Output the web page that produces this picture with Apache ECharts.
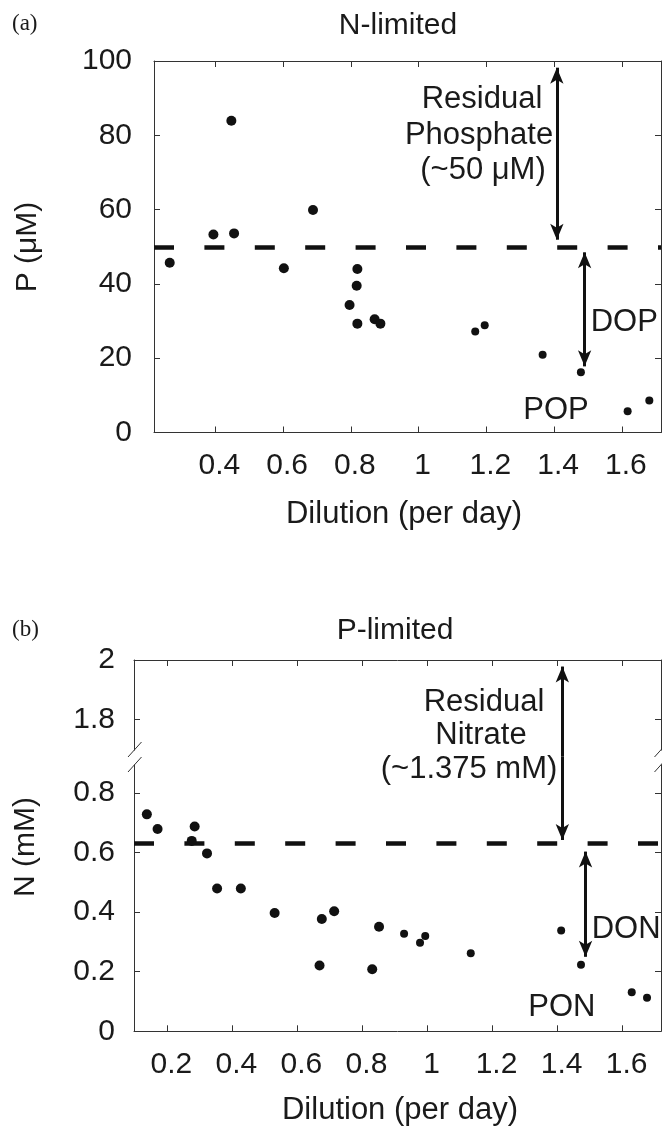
<!DOCTYPE html>
<html>
<head>
<meta charset="utf-8">
<script src="https://cdn.jsdelivr.net/npm/echarts@6/dist/echarts.min.js"></script>
<style>
html,body{margin:0;padding:0;background:#fff;}
#c{width:662px;height:1129px;}
</style>
</head>
<body>
<div id="c"></div>
<script>
// ---------- data: panel (a) N-limited ----------
const dilutionA = [0.265, 0.394, 0.447, 0.455, 0.602, 0.688, 0.819, 0.817, 0.796, 0.819, 0.870, 0.887, 1.167, 1.195, 1.366, 1.479, 1.617, 1.681];
const phosphateA = [45.7, 53.3, 83.9, 53.6, 44.2, 59.9, 44.0, 39.5, 34.3, 29.3, 30.5, 29.3, 27.2, 28.9, 20.9, 16.2, 5.7, 8.6];
const residualP = 50;
const xTicksA = [0.4, 0.6, 0.8, 1.0, 1.2, 1.4, 1.6];
const yTicksA = [0, 20, 40, 60, 80, 100];
const arrowResidualA = [1.408, 98.2, 51.9];   // x, top tip, bottom tip
const arrowDOP = [1.490, 48.5, 17.8];

// ---------- data: panel (b) P-limited ----------
const dilutionB = [0.137, 0.170, 0.275, 0.284, 0.322, 0.353, 0.426, 0.530, 0.668, 0.675, 0.713, 0.830, 0.851, 0.928, 0.977, 0.993, 1.133, 1.411, 1.472, 1.628, 1.675];
const nitrateB = [0.728, 0.679, 0.639, 0.687, 0.597, 0.479, 0.479, 0.397, 0.221, 0.377, 0.403, 0.208, 0.351, 0.327, 0.297, 0.320, 0.262, 0.338, 0.223, 0.131, 0.113];
const residualN = 0.625;
const xTicksB = [0.2, 0.4, 0.6, 0.8, 1.0, 1.2, 1.4, 1.6];
const yTicksBLow = [0, 0.2, 0.4, 0.6, 0.8];
const yTicksBHigh = [1.8, 2];
const arrowResidualB = [1.4146, 1.978, 0.642];
const arrowDON = [1.486, 0.603, 0.250];

// ---------- layout ----------
const FONT = 'Liberation Sans, Arial, Helvetica, sans-serif';
const SERIF = 'Liberation Serif, DejaVu Serif, serif';
const TXT = '#1a1a1a';
const INK = '#111';
const xMinA = 0.2186, xMaxA = 1.7155;
const xMinB = 0.0975, xMaxB = 1.718;
const yMinUp = 1.6755, yMaxLow = 0.9215;

const axLine = {show: true, onZero: false, lineStyle: {color: '#333', width: 1}};
function ticks(vals) {
  return {show: true, inside: true, length: 6, customValues: vals, lineStyle: {color: '#333', width: 1}};
}
function xLabels(vals) {
  return {show: true, customValues: vals, fontSize: 30, fontFamily: FONT, color: TXT, margin: 18, padding: [0, 0, 0, 8]};
}
function yLabels(vals, margin) {
  return {show: true, customValues: vals, fontSize: 30, fontFamily: FONT, color: TXT, margin: margin};
}
const noLabel = {show: false};
const noSplit = {show: false};

function dotSize(v) { return v[0] < 0.9 ? 10 : 8; }

const chart = echarts.init(document.getElementById('c'), null, {renderer: 'canvas'});

const arrowLine = {color: INK, width: 3, type: 'solid', opacity: 1};
const dashLine = {color: INK, width: 4.5, type: [20, 30.4], opacity: 1};

const option = {
  animation: false,
  backgroundColor: '#fff',
  grid: [
    {left: 154, top: 61, width: 507, height: 371.5, show: false},
    {left: 134, top: 660, width: 527, height: 96.7, show: false},
    {left: 134, top: 756.7, width: 527, height: 274.6, show: false}
  ],
  xAxis: [
    {gridIndex: 0, type: 'value', position: 'bottom', min: xMinA, max: xMaxA, axisLine: axLine, axisTick: ticks(xTicksA), axisLabel: xLabels(xTicksA), splitLine: noSplit},
    {gridIndex: 0, type: 'value', position: 'top', min: xMinA, max: xMaxA, axisLine: axLine, axisTick: ticks(xTicksA), axisLabel: noLabel, splitLine: noSplit},
    {gridIndex: 1, type: 'value', position: 'top', min: xMinB, max: xMaxB, axisLine: axLine, axisTick: ticks(xTicksB), axisLabel: noLabel, splitLine: noSplit},
    {gridIndex: 2, type: 'value', position: 'bottom', min: xMinB, max: xMaxB, axisLine: axLine, axisTick: ticks(xTicksB), axisLabel: xLabels(xTicksB), splitLine: noSplit}
  ],
  yAxis: [
    {gridIndex: 0, type: 'value', position: 'left', min: 0, max: 100, axisLine: axLine, axisTick: ticks(yTicksA), axisLabel: yLabels(yTicksA, 22), splitLine: noSplit},
    {gridIndex: 0, type: 'value', position: 'right', min: 0, max: 100, axisLine: axLine, axisTick: ticks(yTicksA), axisLabel: noLabel, splitLine: noSplit},
    {gridIndex: 1, type: 'value', position: 'left', min: yMinUp, max: 2, axisLine: axLine, axisTick: ticks(yTicksBHigh), axisLabel: yLabels(yTicksBHigh, 19), splitLine: noSplit},
    {gridIndex: 1, type: 'value', position: 'right', min: yMinUp, max: 2, axisLine: axLine, axisTick: ticks(yTicksBHigh), axisLabel: noLabel, splitLine: noSplit},
    {gridIndex: 2, type: 'value', position: 'left', min: 0, max: yMaxLow, axisLine: axLine, axisTick: ticks(yTicksBLow), axisLabel: yLabels(yTicksBLow, 19), splitLine: noSplit},
    {gridIndex: 2, type: 'value', position: 'right', min: 0, max: yMaxLow, axisLine: axLine, axisTick: ticks(yTicksBLow), axisLabel: noLabel, splitLine: noSplit}
  ],
  series: [
    {
      type: 'scatter', xAxisIndex: 0, yAxisIndex: 0, z: 5,
      data: dilutionA.map((d, i) => [d, phosphateA[i]]),
      symbolSize: dotSize,
      itemStyle: {color: INK, opacity: 1},
      emphasis: {disabled: true},
      markLine: {
        silent: true, animation: false, symbol: ['arrow', 'arrow'], symbolSize: [10, 16],
        label: {show: false}, emphasis: {disabled: true},
        lineStyle: arrowLine,
        data: [
          [{coord: [arrowResidualA[0], arrowResidualA[1]]}, {coord: [arrowResidualA[0], arrowResidualA[2]]}],
          [{coord: [arrowDOP[0], arrowDOP[1]]}, {coord: [arrowDOP[0], arrowDOP[2]]}]
        ]
      }
    },
    {
      type: 'line', xAxisIndex: 0, yAxisIndex: 0, data: [], z: 4,
      markLine: {
        silent: true, animation: false, symbol: ['none', 'none'], label: {show: false}, emphasis: {disabled: true},
        lineStyle: dashLine,
        data: [{yAxis: residualP}]
      }
    },
    {
      type: 'line', xAxisIndex: 2, yAxisIndex: 2, data: [], z: 4,
      markLine: {
        silent: true, animation: false, symbolSize: [10, 16], label: {show: false}, emphasis: {disabled: true},
        lineStyle: arrowLine,
        data: [
          [{coord: [arrowResidualB[0], arrowResidualB[1]], symbol: 'arrow'}, {coord: [arrowResidualB[0], yMinUp], symbol: 'none'}]
        ]
      }
    },
    {
      type: 'scatter', xAxisIndex: 3, yAxisIndex: 4, z: 5,
      data: dilutionB.map((d, i) => [d, nitrateB[i]]),
      symbolSize: dotSize,
      itemStyle: {color: INK, opacity: 1},
      emphasis: {disabled: true},
      markLine: {
        silent: true, animation: false, symbolSize: [10, 16], label: {show: false}, emphasis: {disabled: true},
        lineStyle: arrowLine,
        data: [
          [{coord: [arrowResidualB[0], yMaxLow], symbol: 'none'}, {coord: [arrowResidualB[0], arrowResidualB[2]], symbol: 'arrow'}],
          [{coord: [arrowDON[0], arrowDON[1]], symbol: 'arrow'}, {coord: [arrowDON[0], arrowDON[2]], symbol: 'arrow'}]
        ]
      }
    },
    {
      type: 'line', xAxisIndex: 3, yAxisIndex: 4, data: [], z: 4,
      markLine: {
        silent: true, animation: false, symbol: ['none', 'none'], label: {show: false}, emphasis: {disabled: true},
        lineStyle: dashLine,
        data: [{yAxis: residualN}]
      }
    }
  ]
};

function txt(text, x, y, opts) {
  return Object.assign({
    type: 'text', x: x, y: y, z: 20, silent: true,
    style: Object.assign({text: text, fontSize: 31, fontFamily: FONT, fill: TXT, align: 'center', verticalAlign: 'middle'}, (opts && opts.style) || {})
  }, (opts && opts.el) || {});
}
function seg(x1, y1, x2, y2) {
  return {type: 'line', z: 21, silent: true, shape: {x1: x1, y1: y1, x2: x2, y2: y2}, style: {stroke: '#333', lineWidth: 1}};
}
function wipe(x, y, w, h) {
  return {type: 'rect', z: 20, silent: true, shape: {x: x, y: y, width: w, height: h}, style: {fill: '#fff'}};
}

option.graphic = [
  txt('(a)', 12, 23.5, {style: {fontFamily: SERIF, fontSize: 23, align: 'left'}}),
  txt('N-limited', 398, 25.5, {style: {fontSize: 30}}),
  txt('Dilution (per day)', 404, 514, {style: {fontSize: 31}}),
  txt('P (μM)', 28, 247, {el: {rotation: Math.PI / 2}, style: {fontSize: 30}}),
  txt('Residual', 482, 99.8),
  txt('Phosphate', 479, 135.3),
  txt('(~50 μM)', 483, 170.8),
  txt('DOP', 590.7, 322.5, {style: {align: 'left'}}),
  txt('POP', 523.3, 410.8, {style: {align: 'left'}}),

  txt('(b)', 12, 630, {style: {fontFamily: SERIF, fontSize: 23, align: 'left'}}),
  txt('P-limited', 395, 631, {style: {fontSize: 30}}),
  txt('Dilution (per day)', 400, 1110, {style: {fontSize: 31}}),
  txt('N (mM)', 26, 847, {el: {rotation: Math.PI / 2}, style: {fontSize: 30}}),
  txt('Residual', 484, 702.5),
  txt('Nitrate', 481, 735.5),
  txt('(~1.375 mM)', 469, 769),
  txt('DON', 591.7, 929, {style: {align: 'left'}}),
  txt('PON', 528.3, 1007.5, {style: {align: 'left'}}),

  // axis break marks
  wipe(131, 750.5, 7, 14),
  seg(128, 757, 141.5, 742),
  seg(128, 772, 141.5, 757),
  wipe(657.5, 750.5, 7, 14),
  seg(654.5, 757, 668, 742),
  seg(654.5, 772, 668, 757)
];

chart.setOption(option);
</script>
</body>
</html>
